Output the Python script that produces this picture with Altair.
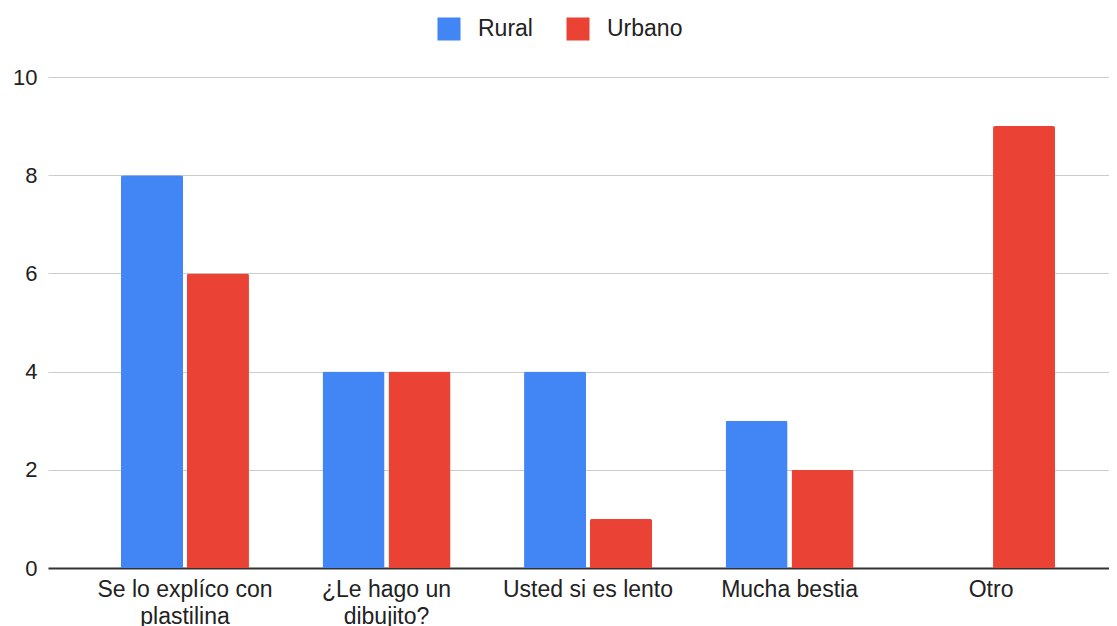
import altair as alt
import pandas as pd

categories = ["Se lo explíco con plastilina", "¿Le hago un dibujito?", "Usted si es lento", "Mucha bestia", "Otro"]
label_lines = [["Se lo explíco con", "plastilina"], ["¿Le hago un", "dibujito?"], ["Usted si es lento"], ["Mucha bestia"], ["Otro"]]
series = ["Rural", "Urbano"]
rural = [8, 4, 4, 3, 0]
urbano = [6, 4, 1, 2, 9]
colors = ["#4285F4", "#EA4335"]
y_ticks = [0, 2, 4, 6, 8, 10]

rows = []
for c, r, u in zip(categories, rural, urbano):
    rows.append({"cat": c, "serie": "Rural", "val": r})
    rows.append({"cat": c, "serie": "Urbano", "val": u})
df = pd.DataFrame(rows)

parts = []
for c, lines in zip(categories, label_lines):
    arr = "[" + ",".join("'" + l + "'" for l in lines) + "]"
    parts.append(f"datum.value == '{c}' ? {arr} : ")
label_expr = "".join(parts) + "datum.value"

FONT = "Liberation Sans"

chart = alt.Chart(df).mark_bar(cornerRadiusTopLeft=2, cornerRadiusTopRight=2).encode(
    x=alt.X("cat:N", sort=categories, title=None,
            scale=alt.Scale(paddingInner=0.365, paddingOuter=0.315, align=0.575),
            axis=alt.Axis(labelAngle=0, labelExpr=label_expr, labelFontSize=23,
                          labelColor="#222", labelFont=FONT, labelPadding=10,
                          labelLineHeight=27, ticks=False, domain=True,
                          domainColor="#333", domainWidth=2, grid=False,
                          labelBaseline="top")),
    xOffset=alt.XOffset("serie:N", sort=series,
                        scale=alt.Scale(paddingInner=0.06, paddingOuter=0)),
    y=alt.Y("val:Q", title=None,
            scale=alt.Scale(domain=[0, 10], nice=False),
            axis=alt.Axis(values=y_ticks, labelFontSize=22, labelColor="#222",
                          labelFont=FONT, labelPadding=11, ticks=False, domain=False,
                          grid=True, gridColor="#cccccc", gridWidth=1)),
    color=alt.Color("serie:N", sort=series,
                    scale=alt.Scale(domain=series, range=colors),
                    legend=alt.Legend(title=None, orient="none", direction="horizontal",
                                      legendX=389, legendY=-60, symbolType="square",
                                      symbolSize=530, symbolStrokeWidth=0,
                                      labelFontSize=23, labelFont=FONT, labelColor="#222",
                                      labelOffset=17, columnPadding=33, padding=0)),
).properties(
    width=1061, height=491,
    autosize=alt.AutoSizeParams(type="none"),
    padding={"left": 40, "top": 69, "right": 0, "bottom": 58},
).configure_view(stroke=None)

chart.save("out.html", embed_options={"renderer": "svg", "actions": False})
